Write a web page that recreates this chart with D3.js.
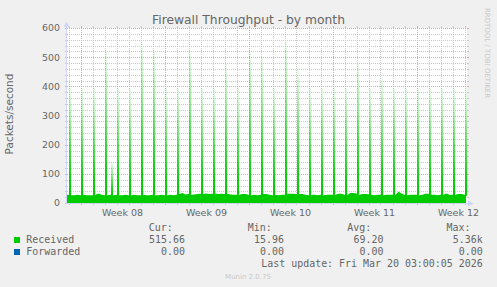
<!DOCTYPE html>
<html>
<head>
<meta charset="utf-8">
<script src="https://cdn.jsdelivr.net/npm/d3@7"></script>
<style>
  html, body { margin: 0; padding: 0; background: #f0f0f0; }
  svg { display: block; }
</style>
</head>
<body>
<svg id="chart" width="497" height="287"></svg>
<script>
// ---- data ----
var days = ["2026-02-15","2026-02-16","2026-02-17","2026-02-18","2026-02-19","2026-02-20","2026-02-21",
            "2026-02-22","2026-02-23","2026-02-24","2026-02-25","2026-02-26","2026-02-27","2026-02-28",
            "2026-03-01","2026-03-02","2026-03-03","2026-03-04","2026-03-05","2026-03-06","2026-03-07",
            "2026-03-08","2026-03-09","2026-03-10","2026-03-11","2026-03-12","2026-03-13","2026-03-14",
            "2026-03-15","2026-03-16","2026-03-17","2026-03-18","2026-03-19","2026-03-20"];

// nightly peak (around 02:00) of each day, packets/s
var spikePeaks = [403, 398, 398, 523, 398, 392, 546, 523, 398, 398, 523,
                  398, 398, 474, 398, 523, 500, 398, 552, 466, 398, 398,
                  398, 398, 474, 398, 432, 398, 398, 398, 398, 398, 398, 398];

// background level at 00h, 06h, 12h, 18h of each day
var baseline = [
  [28,27,27,28],[27,28,27,27],[27,28,33,28],[27,27,28,27],[28,27,27,28],[27,27,28,27],[27,28,27,27],
  [28,27,27,28],[27,27,28,27],[28,31,34,29],[31,28,29,31],[32,31,33,31],[32,33,31,32],[31,32,29,28],
  [28,28,31,31],[28,27,28,27],[28,31,31,28],[27,28,27,28],[28,32,32,32],[31,31,31,28],[27,28,28,27],
  [28,27,28,28],[28,28,32,32],[28,28,34,34],[33,28,31,31],[30,28,27,28],[28,27,28,28],[28,28,39,33],
  [28,27,28,28],[28,27,28,32],[32,28,28,27],[28,28,33,28],[28,28,31,31],[28]
];

// one extra daytime burst
var extraTimes = ["2026-02-18T14:00"];
var extraPeaks = [140];

var yTicks = [0, 100, 200, 300, 400, 500, 600];
var yMinor = [20, 40, 60, 80, 120, 140, 160, 180, 220, 240, 260, 280, 320, 340, 360, 380,
              420, 440, 460, 480, 520, 540, 560, 580];
var weekStarts = ["2026-02-16", "2026-02-23", "2026-03-02", "2026-03-09", "2026-03-16"];
var weekLabels = ["Week 08", "Week 09", "Week 10", "Week 11", "Week 12"];

var seriesNames  = ["Received", "Forwarded"];
var seriesColors = ["#00cc00", "#0066b3"];
var curVals = ["515.66 ", "0.00 "];
var minVals = ["15.96 ", "0.00 "];
var avgVals = ["69.20 ", "0.00 "];
var maxVals = ["5.36k", "0.00 "];
var statHeads = ["Cur:", "Min:", "Avg:", "Max:"];

var lastUpdate = "2026-03-20T03:00:05";

// ---- setup ----
var svg = d3.select('#chart');
var plotL = 67, plotR = 467, plotT = 28, plotB = 203;
var fontColor = '#666666';
var axisColor = '#cfd6f8';

var parseDay = d3.utcParse('%Y-%m-%d');
var parseHour = d3.utcParse('%Y-%m-%dT%H:%M');
var parseFull = d3.utcParse('%Y-%m-%dT%H:%M:%S');

var endT = parseFull(lastUpdate);
var xEnd = d3.utcHour.offset(d3.utcHour.floor(endT), 2);
var xStart = d3.utcHour.offset(xEnd, -800);   // 400px at 2h per pixel

var x = d3.scaleUtc().domain([xStart, xEnd]).range([plotL, plotR]);
var y = d3.scaleLinear().domain([0, 600]).range([plotB, plotT]);

// spikes fade out toward the top (antialiased in rrdtool)
var grad = svg.append('defs').append('linearGradient')
  .attr('id', 'spikeGrad').attr('x1', 0).attr('x2', 0).attr('y1', 0).attr('y2', 1);
[[0, 0.06], [0.3, 0.35], [0.6, 0.7], [0.85, 0.95], [1, 1]].forEach(function(s){
  grad.append('stop').attr('offset', s[0]).attr('stop-color', seriesColors[0]).attr('stop-opacity', s[1]);
});

svg.append('rect').attr('width', 497).attr('height', 287).attr('fill', '#f0f0f0');
svg.append('rect')
  .attr('x', plotL).attr('y', plotT)
  .attr('width', plotR - plotL).attr('height', plotB - plotT)
  .attr('fill', '#ffffff');

// ---- grid ----
var grid = svg.append('g');
var minorCol = 'rgb(200,200,200)', majorCol = 'rgb(232,160,160)';

function hline(v, col) {
  var yy = Math.round(y(v)) + 0.5;
  grid.append('line').attr('x1', plotL).attr('x2', plotR).attr('y1', yy).attr('y2', yy)
    .attr('stroke', col).attr('stroke-dasharray', '1,1');
  grid.append('line').attr('x1', plotL - 2).attr('x2', plotL).attr('y1', yy).attr('y2', yy).attr('stroke', col);
  grid.append('line').attr('x1', plotR).attr('x2', plotR + 2).attr('y1', yy).attr('y2', yy).attr('stroke', col);
}
function vline(t, col) {
  var xx = Math.round(x(t)) + 0.5;
  grid.append('line').attr('x1', xx).attr('x2', xx).attr('y1', plotT).attr('y2', plotB)
    .attr('stroke', col).attr('stroke-dasharray', '1,1');
  grid.append('line').attr('x1', xx).attr('x2', xx).attr('y1', plotB).attr('y2', plotB + 2).attr('stroke', col);
  grid.append('line').attr('x1', xx).attr('x2', xx).attr('y1', plotT - 2).attr('y2', plotT).attr('stroke', col);
}

yMinor.forEach(function(v){ hline(v, minorCol); });
var weekTimes = weekStarts.map(parseDay);
d3.utcDay.range(d3.utcDay.ceil(xStart), xEnd).forEach(function(t){
  var isWeek = weekTimes.some(function(w){ return +w === +t; });
  if (!isWeek) vline(t, minorCol);
});
yTicks.forEach(function(v){ hline(v, majorCol); });
weekTimes.forEach(function(t){ vline(t, majorCol); });

// ---- received series ----
var basePts = [{t: xStart, v: baseline[0][0]}];
var spikes = [];
days.forEach(function(d, i){
  var day = parseDay(d), b = baseline[i];
  b.forEach(function(v, s){ basePts.push({t: d3.utcHour.offset(day, 6 * s), v: v}); });
  spikes.push({t: d3.utcHour.offset(day, 2), v: spikePeaks[i], base: b[0]});
});
extraTimes.forEach(function(et, i){
  var t = parseHour(et);
  var di = days.indexOf(d3.utcFormat('%Y-%m-%d')(t));
  spikes.push({t: t, v: extraPeaks[i], base: baseline[di][Math.floor(t.getUTCHours() / 6)]});
});
basePts = basePts.filter(function(p){ return p.t <= endT; });
basePts.push({t: endT, v: baseline[days.length - 1][0]});

var area = d3.area()
  .x(function(d){ return x(d.t); })
  .y0(y(0))
  .y1(function(d){ return y(d.v); });

svg.append('path').datum(basePts).attr('d', area).attr('fill', seriesColors[0]);

// each peak spreads over two 2h pixel columns
svg.append('g').selectAll('rect').data(spikes).enter().append('rect')
  .attr('x', function(d){ return x(d3.utcHour.offset(d.t, -1)); })
  .attr('width', function(d){ return x(d3.utcHour.offset(d.t, 3)) - x(d3.utcHour.offset(d.t, -1)); })
  .attr('y', function(d){ return y(d.v); })
  .attr('height', function(d){ return y(d.base) - y(d.v) + 1; })
  .attr('fill', 'url(#spikeGrad)');

// ---- axes ----
svg.append('line').attr('x1', plotL).attr('x2', plotR + 2).attr('y1', plotB + 0.5).attr('y2', plotB + 0.5)
  .attr('stroke', axisColor);
svg.append('path').attr('d', 'M468,200.5L473.5,203.5L468,206.5Z').attr('fill', axisColor);
svg.append('line').attr('x1', plotL - 0.5).attr('x2', plotL - 0.5).attr('y1', plotB + 1).attr('y2', plotT - 2)
  .attr('stroke', axisColor);
svg.append('path').attr('d', 'M63.5,27L66.5,21.5L69.5,27Z').attr('fill', axisColor);

// y tick labels
svg.append('g').selectAll('text').data(yTicks).enter().append('text')
  .attr('x', 60).attr('y', function(d){ return y(d) + 3.4; })
  .attr('text-anchor', 'end')
  .attr('font-family', 'DejaVu Sans').attr('font-size', 9.4)
  .attr('fill', fontColor)
  .text(function(d){ return d; });

// week labels centered within each week
svg.append('g').selectAll('text').data(weekTimes).enter().append('text')
  .attr('x', function(d){ return x(d3.utcHour.offset(d, 84)); })
  .attr('y', 216)
  .attr('text-anchor', 'middle')
  .attr('font-family', 'DejaVu Sans').attr('font-size', 9.5)
  .attr('fill', fontColor)
  .text(function(d, i){ return weekLabels[i]; });

// title + axis label
svg.append('text').attr('x', 248.5).attr('y', 24).attr('text-anchor', 'middle')
  .attr('font-family', 'DejaVu Sans').attr('font-size', 12.3).attr('fill', fontColor)
  .text('Firewall Throughput - by month');

svg.append('text').attr('transform', 'translate(13,114) rotate(-90)').attr('text-anchor', 'middle')
  .attr('font-family', 'DejaVu Sans').attr('font-size', 10.5).attr('fill', fontColor)
  .text('Packets/second');

svg.append('text').attr('transform', 'translate(485,53) rotate(90)').attr('text-anchor', 'middle')
  .attr('font-family', 'DejaVu Sans').attr('font-size', 7).attr('fill', '#c8c8c8')
  .text('RRDTOOL / TOBI OETIKER');

// ---- legend ----
var mono = 'DejaVu Sans Mono';
var colEnds = [185, 284, 383.5, 482.7];
var leg = svg.append('g').attr('font-family', mono).attr('font-size', 9.95).attr('fill', fontColor)
  .style('white-space', 'pre');

statHeads.forEach(function(h, i){
  leg.append('text').attr('x', colEnds[i] - 12.2).attr('y', 231.3).attr('text-anchor', 'end').text(h);
});

var stats = [curVals, minVals, avgVals, maxVals];
seriesNames.forEach(function(name, r){
  var yy = 243.3 + r * 12;
  leg.append('rect').attr('x', 14).attr('y', yy - 6.3).attr('width', 6).attr('height', 6)
    .attr('fill', seriesColors[r]);
  leg.append('text').attr('x', 26.3).attr('y', yy).text(name);
  stats.forEach(function(col, c){
    leg.append('text').attr('x', colEnds[c]).attr('y', yy).attr('text-anchor', 'end').text(col[r]);
  });
});

leg.append('text').attr('x', 482.7).attr('y', 267).attr('text-anchor', 'end')
  .text('Last update: Fri Mar 20 03:00:05 2026');

svg.append('text').attr('x', 248).attr('y', 279).attr('text-anchor', 'middle')
  .attr('font-family', 'DejaVu Sans').attr('font-size', 7).attr('fill', '#c8c8c8')
  .text('Munin 2.0.75');
</script>
</body>
</html>
